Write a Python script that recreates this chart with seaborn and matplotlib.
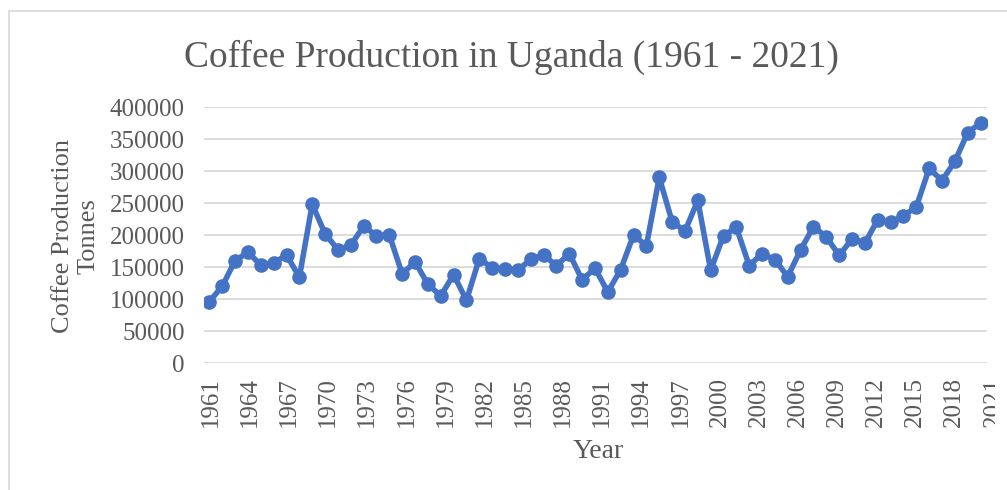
import numpy as np
import pandas as pd
import seaborn as sns
import matplotlib.pyplot as plt
import matplotlib.transforms as mtransforms
from matplotlib.patches import Rectangle

# Coffee production in Uganda, tonnes
years = list(range(1961, 2022))
production = [
    96000, 120000, 160000, 173000, 153000, 156000, 169000, 134000, 248000, 202000,
    177000, 184000, 214000, 199000, 200000, 139000, 158000, 123000, 105000, 138000,
    98000, 163000, 149000, 147000, 145000, 162000, 169000, 152000, 171000, 130000,
    148000, 111000, 146000, 200000, 183000, 290000, 221000, 206000, 254000, 145000,
    199000, 212000, 152000, 171000, 161000, 135000, 177000, 213000, 197000, 168000,
    194000, 187000, 224000, 220000, 230000, 244000, 304000, 285000, 315000, 360000,
    375000,
]
tick_years = list(range(1961, 2022, 3))
y_ticks = list(range(0, 400001, 50000))

df = pd.DataFrame({"Year": years, "Production": production})

sns.set_theme(style="white")
plt.rcParams["font.family"] = ["Liberation Serif", "DejaVu Serif"]
TEXT = "#595959"
GRID = "#d9d9d9"
BLUE = "#4472C4"

fig = plt.figure(figsize=(10.07, 4.90), dpi=100)
ax = fig.add_axes([204 / 1007, 1 - 363 / 490, (987 - 204) / 1007, (363 - 107) / 490])

sns.lineplot(data=df, x="Year", y="Production", ax=ax, color=BLUE, linewidth=4,
             marker="o", markersize=10.5, markeredgewidth=0, zorder=3)

ax.set_xlim(1960.58, 2021.5)
ax.set_ylim(0, 400000)
ax.set_yticks(y_ticks)
ax.set_yticklabels([str(v) for v in y_ticks])
ax.set_xticks(tick_years)
ax.set_xticklabels([])
ax.tick_params(axis="both", length=0, labelsize=18, colors=TEXT)
ax.tick_params(axis="y", pad=14)
ax.yaxis.grid(True, color=GRID, linewidth=1.3)
ax.xaxis.grid(False)
for s in ax.spines.values():
    s.set_visible(False)
ax.set_axisbelow(True)
ax.set_xlabel("")
ax.set_ylabel("")

# category labels: Excel spreads them a touch wider than the points
trans = mtransforms.blended_transform_factory(ax.transData, ax.transAxes)
for yr in tick_years:
    t = ax.text(yr + 0.11 + (yr - 1961) * 0.0148, -14 / 256, str(yr), transform=trans,
                rotation=90, ha="center", va="top", fontsize=18, color=TEXT,
                clip_on=False)
    if yr == tick_years[-1]:
        # the last one is cut off by the chart edge in the original
        t.set_clip_on(True)
        t.set_clip_box(mtransforms.Bbox.from_extents(0, 0, 995, 490))

fig.text(598 / 1007, 1 - 451 / 490, "Year", ha="center", va="center",
         fontsize=20, color=TEXT)
fig.text(76 / 1007, 1 - 236 / 490, "Coffee Production\nTonnes", ha="center",
         va="center", rotation=90, multialignment="center", fontsize=19,
         color=TEXT, linespacing=1.2)
fig.text(511 / 1007, 1 - 57 / 490, "Coffee Production in Uganda (1961 - 2021)",
         ha="center", va="center", fontsize=27, color=TEXT)

# chart area border (cropped on the right and bottom)
fig.patches.append(Rectangle((9 / 1007, -0.1), 1.2, 1.1 - 11 / 490,
                             transform=fig.transFigure, fill=False,
                             edgecolor=GRID, linewidth=1.2))

fig.savefig("out.png", dpi=100)
